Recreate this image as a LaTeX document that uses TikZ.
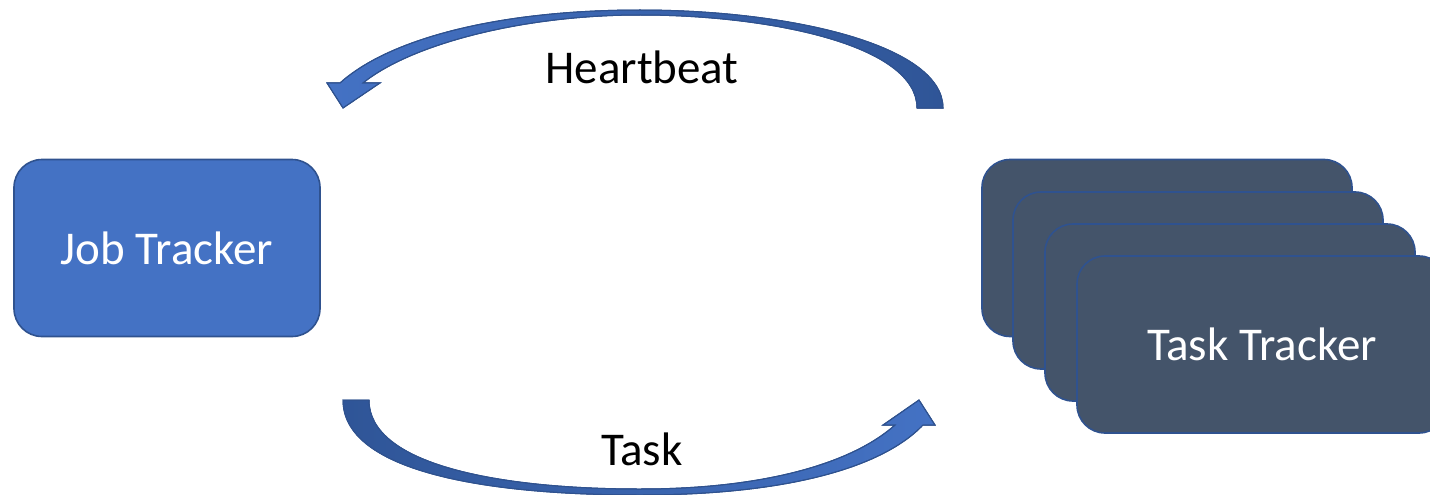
\documentclass[tikz,border=0pt]{standalone}
\usepackage{fontspec}
\setmainfont{Carlito}
\definecolor{jobfill}{HTML}{4472C4}
\definecolor{taskfill}{HTML}{44546A}
\definecolor{boxedge}{HTML}{2F528F}
\definecolor{arrowdark}{HTML}{2F5597}
\tikzset{
  tracker/.style={draw=boxedge, line width=1.6pt, rounded corners=28pt,
    minimum width=370pt, minimum height=177pt, inner sep=0pt,
    text=white, font=\fontsize{47}{56}\selectfont},
  jobbox/.style={tracker, fill=jobfill, minimum width=306pt},
  taskbox/.style={tracker, fill=taskfill},
  blockarrow/.style={draw=boxedge, line width=1pt, line join=miter},
  caption/.style={inner sep=0pt, anchor=base, font=\fontsize{47}{56}\selectfont}
}
\begin{document}
\begin{tikzpicture}[x=1pt,y=-1pt]
\useasboundingbox (0,0) rectangle (1430,495);

% Job tracker
\node[jobbox] (job) at (167,248) {Job Tracker};

% Stack of task trackers, back to front
\node[taskbox] (tt1) at (1167,248) {};
\node[taskbox] (tt2) at (1198,280.5) {};
\node[taskbox] (tt3) at (1230,312.5) {};
\node[taskbox] (tt4) at (1262,344.5) {Task Tracker};

% Heartbeat: curved block arrow from the task trackers back to the job tracker
\coordinate (hbTailOut) at (943,108);
\coordinate (hbTailIn)  at (917,108);
\coordinate (hbTip)     at (343,108);
\fill[blockarrow, left color=jobfill, right color=arrowdark]
  (hbTailOut) .. controls (943,45) and (790,10) .. (640,10)
  .. controls (500,10) and (390,38) .. (340,83)
  -- (327,83) -- (hbTip) -- (380,83) -- (363,83)
  .. controls (410,45) and (520,15) .. (640,15)
  .. controls (770,15) and (917,45) .. (hbTailIn) -- cycle;
\draw[blockarrow]
  (hbTailOut) .. controls (943,45) and (790,10) .. (640,10)
  .. controls (500,10) and (390,38) .. (340,83)
  -- (327,83) -- (hbTip) -- (380,83) -- (363,83)
  .. controls (410,45) and (520,15) .. (640,15)
  .. controls (770,15) and (917,45) .. (hbTailIn) -- cycle;
\node[caption] (hb) at (642,84) {Heartbeat};

% Task: curved block arrow from the job tracker to the task trackers
\coordinate (tkTailOut) at (343,400);
\coordinate (tkTailIn)  at (369,400);
\coordinate (tkTip)     at (919,400);
\fill[blockarrow, left color=arrowdark, right color=jobfill]
  (tkTailOut) .. controls (343,470) and (480,495) .. (640,495)
  .. controls (780,495) and (880,470) .. (923,425)
  -- (935,425) -- (tkTip) -- (883,425) -- (895,425)
  .. controls (850,465) and (760,489) .. (640,489)
  .. controls (500,489) and (369,465) .. (tkTailIn) -- cycle;
\draw[blockarrow]
  (tkTailOut) .. controls (343,470) and (480,495) .. (640,495)
  .. controls (780,495) and (880,470) .. (923,425)
  -- (935,425) -- (tkTip) -- (883,425) -- (895,425)
  .. controls (850,465) and (760,489) .. (640,489)
  .. controls (500,489) and (369,465) .. (tkTailIn) -- cycle;
\node[caption] (tk) at (642,465) {Task};
\end{tikzpicture}
\end{document}
